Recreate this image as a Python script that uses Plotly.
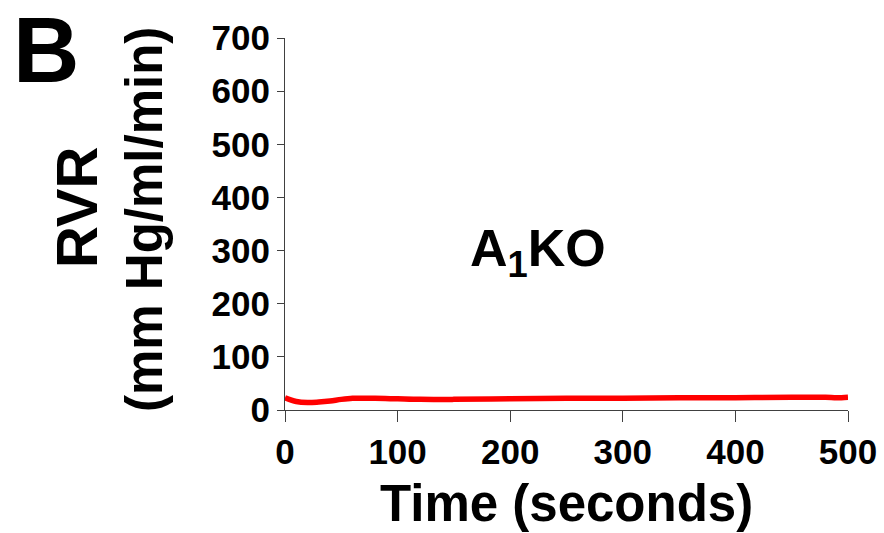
import plotly.graph_objects as go

# Renal vascular resistance over time (A1KO)
time_s = [0, 10, 20, 30, 40, 50, 60, 70, 80, 100, 120, 150, 200, 250, 300, 350, 400, 450, 480, 490, 500]
rvr = [23, 16, 14, 15, 17, 20, 22, 22, 22, 21, 20, 20, 21, 22, 22, 23, 23, 24, 24, 23, 24]

x_ticks = [0, 100, 200, 300, 400, 500]
y_ticks = [0, 100, 200, 300, 400, 500, 600, 700]

FONT = "Liberation Sans, Arial, sans-serif"

# plot area in page pixels
L, R, T, B = 285, 36, 38, 123
W, H = 884, 533

fig = go.Figure()
fig.add_trace(go.Scatter(
    x=time_s, y=rvr, mode="lines",
    line=dict(color="#ff0000", width=5.5, shape="spline"),
    hoverinfo="skip", showlegend=False,
))

axis_common = dict(
    showgrid=False, zeroline=False, showline=True, automargin=False,
    linecolor="#404040", linewidth=1.2,
    ticks="outside", tickcolor="#404040", tickwidth=1.2,
    tickfont=dict(family=FONT, size=35, color="#000000", weight="bold"),
)

fig.update_xaxes(range=[0, 500], tickvals=x_ticks, ticklen=11, **axis_common)
fig.update_yaxes(range=[0, 700], tickvals=y_ticks, ticklen=7, **axis_common)


def label(text, px, py, size, angle=0):
    """Free text placed by page-pixel centre."""
    return dict(
        text=text, showarrow=False, textangle=angle,
        xref="paper", yref="paper", xanchor="center", yanchor="middle",
        x=(px - L) / (W - L - R), y=(H - B - py) / (H - T - B),
        font=dict(size=size, family=FONT, color="#000000"),
    )


fig.update_layout(
    width=W, height=H,
    margin=dict(l=L, r=R, t=T, b=B, autoexpand=False),
    paper_bgcolor="white", plot_bgcolor="white",
    font=dict(family=FONT, color="#000000"),
    annotations=[
        label("<b>B</b>", 46, 50, 92),
        label("<b>RVR</b>", 76, 208, 58, -90),
        label("<b>(mm Hg/ml/min)</b>", 144, 220, 51, -90),
        label("<b>A<sub>1</sub>KO</b>", 538, 252, 52),
        label("<b>Time (seconds)</b>", 566, 503, 51),
    ],
)

fig.write_html("out.html")
